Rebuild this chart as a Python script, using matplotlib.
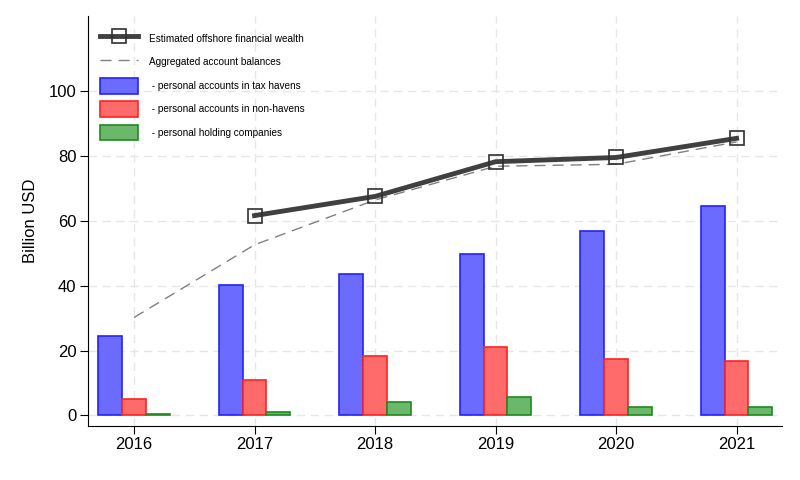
import matplotlib
matplotlib.use('Agg')
import matplotlib.pyplot as plt
import numpy as np

plt.rcParams['font.family'] = ['Liberation Sans', 'DejaVu Sans']

years = [2016, 2017, 2018, 2019, 2020, 2021]
tax_havens = [24.6, 40.1, 43.7, 49.9, 57.0, 64.6]
non_havens = [5.1, 11.0, 18.2, 21.0, 17.5, 16.8]
holding_cos = [0.5, 1.0, 4.2, 5.6, 2.6, 2.6]
est_years = [2017, 2018, 2019, 2020, 2021]
est_wealth = [61.6, 67.5, 78.2, 79.5, 85.4]
agg_balances = [30.2, 52.6, 66.4, 76.8, 77.4, 84.3]

x = np.array(years)
w = 0.197

fig = plt.figure(figsize=(8, 4.8), dpi=100)
ax = fig.add_axes([0.1094, 0.1125, 0.8686, 0.8542])

ax.grid(True, color='#e6e6e6', linestyle=(0, (6, 4)), linewidth=1.0)
ax.set_axisbelow(True)

ax.plot(est_years, est_wealth, color='#404040', linewidth=3.5, marker='s',
        markersize=10, markerfacecolor='none', markeredgecolor='#303030',
        markeredgewidth=1.2, label='Estimated offshore financial wealth', zorder=4)
ax.plot(years, agg_balances, color='#808080', linewidth=1.0, linestyle=(0, (8, 5)),
        label='Aggregated account balances', zorder=3)

ax.bar(x - w, tax_havens, w, color='#6b6bff', edgecolor='#2222ff', linewidth=1.2,
       label=' - personal accounts in tax havens', zorder=2)
ax.bar(x, non_havens, w, color='#ff6b6b', edgecolor='#ff2222', linewidth=1.2,
       label=' - personal accounts in non-havens', zorder=2)
ax.bar(x + w, holding_cos, w, color='#6bb86b', edgecolor='#1f8a1f', linewidth=1.2,
       label=' - personal holding companies', zorder=2)

ax.set_xlim(2016 - 0.386, 2021 + 0.38)
ax.set_ylim(-3.24, 123.1)
ax.set_xticks(years)
ax.set_yticks([0, 20, 40, 60, 80, 100])
ax.tick_params(labelsize=12, length=6, pad=2)
ax.set_ylabel('Billion USD', fontsize=12, labelpad=8)
for side in ['top', 'right']:
    ax.spines[side].set_visible(False)

ax.legend(loc='upper left', frameon=False, fontsize=7.2, handlelength=3.8,
          handleheight=2.04, labelspacing=0.77, borderaxespad=0.8,
          handletextpad=1.1, bbox_to_anchor=(0.0, 1 - 3 / 410))

fig.savefig('out.png', dpi=100)
